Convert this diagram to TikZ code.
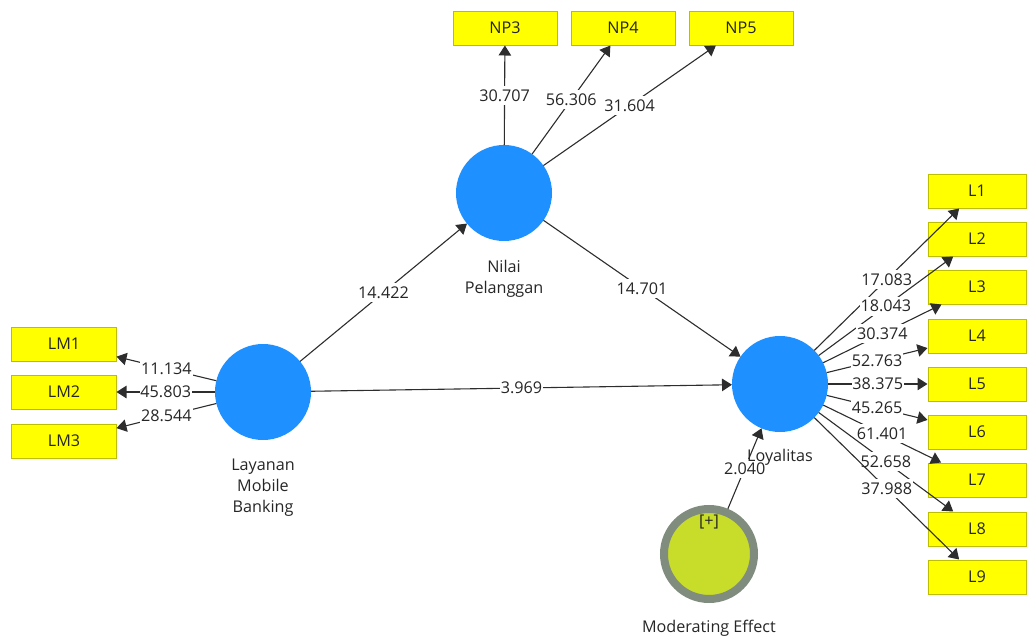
\documentclass[tikz,border=0pt]{standalone}
\usepackage{fontspec}
\setmainfont{Open Sans}
\usetikzlibrary{arrows.meta,positioning}

\definecolor{lvblue}{RGB}{30,144,255}
\definecolor{indyellow}{RGB}{255,255,0}
\definecolor{indborder}{RGB}{190,190,0}
\definecolor{modfill}{RGB}{200,220,42}
\definecolor{modring}{RGB}{128,140,125}
\definecolor{linkgray}{RGB}{45,45,45}

\begin{document}
\begin{tikzpicture}[x=0.2mm, y=-0.2mm,
  latent/.style={circle, fill=lvblue, minimum size=19.2mm, inner sep=0pt, outer sep=0pt},
  moderator/.style={circle, fill=modfill, draw=modring, line width=1.6mm, minimum size=18mm, inner sep=0pt, outer sep=0.8mm},
  indicator/.style={rectangle, fill=indyellow, draw=indborder, line width=0.2mm, minimum width=20.8mm, minimum height=6.8mm, inner sep=0pt, text=black!85, font=\fontsize{9.2}{10}\selectfont},
  caption/.style={align=center, inner sep=0pt, text=black!85, font=\fontsize{9.2}{11.7}\selectfont},
  link/.style={draw=linkgray, line width=0.22mm, -{Triangle[length=2mm,width=2.5mm]}},
  coef/.style={midway, fill=white, inner xsep=0.5pt, inner ysep=2pt, text=black!85, font=\fontsize{9.2}{10}\selectfont}
]

\useasboundingbox (0,0) rectangle (1027,640);

% 1. Latent variables
\node[latent] (NP) at (504,193) {};
\node[latent] (LMB) at (263,392) {};
\node[latent] (LOY) at (780,384) {};
\node[moderator] (MOD) at (709,554) {};

% 2. Captions
\node[caption, below=3.8mm of NP] (NPtext) {Nilai\\Pelanggan};
\node[caption, below=3.8mm of LMB] (LMBtext) {Layanan\\Mobile\\Banking};
\node[caption, below=3.4mm of MOD] (MODtext) {Moderating Effect};
\node[caption] (plus) at (709,522) {[+]};

% 3. Indicators of Nilai Pelanggan
\node[indicator] (NP3) at (505,28) {NP3};
\node[indicator] (NP4) at (623,28) {NP4};
\node[indicator] (NP5) at (741,28) {NP5};

% 4. Indicators of Layanan Mobile Banking
\node[indicator] (LM1) at (64,344) {LM1};
\node[indicator] (LM2) at (64,392) {LM2};
\node[indicator] (LM3) at (64,441) {LM3};

% 5. Indicators of Loyalitas (narrower, cut at the right edge)
\node[indicator, minimum width=19.6mm] (L1) at (977,191) {L1};
\node[indicator, minimum width=19.6mm] (L2) at (977,239) {L2};
\node[indicator, minimum width=19.6mm] (L3) at (977,287) {L3};
\node[indicator, minimum width=19.6mm] (L4) at (977,336) {L4};
\node[indicator, minimum width=19.6mm] (L5) at (977,384) {L5};
\node[indicator, minimum width=19.6mm] (L6) at (977,432) {L6};
\node[indicator, minimum width=19.6mm] (L7) at (977,480) {L7};
\node[indicator, minimum width=19.6mm] (L8) at (977,529) {L8};
\node[indicator, minimum width=19.6mm] (L9) at (977,577) {L9};

% 6. Structural paths
\draw[link] (LMB) -- (NP) node[coef] {14.422};
\draw[link] (LMB) -- (LOY) node[coef] {3.969};
\draw[link] (NP) -- (LOY) node[coef] {14.701};
\draw[link] (MOD) -- (LOY) node[coef] {2.040};

% caption of Loyalitas goes on top of the 2.040 label
\node[caption, below=3.4mm of LOY] (LOYtext) {Loyalitas};

% 7. Outer loadings
\draw[link] (NP) -- (NP3) node[coef] {30.707};
\draw[link] (NP) -- (NP4) node[coef] {56.306};
\draw[link] (NP) -- (NP5) node[coef] {31.604};

\draw[link] (LMB) -- (LM1) node[coef] {11.134};
\draw[link] (LMB) -- (LM2) node[coef] {45.803};
\draw[link] (LMB) -- (LM3) node[coef] {28.544};

\draw[link] (LOY) -- (L1) node[coef] {17.083};
\draw[link] (LOY) -- (L2) node[coef] {18.043};
\draw[link] (LOY) -- (L3) node[coef] {30.374};
\draw[link] (LOY) -- (L4) node[coef] {52.763};
\draw[link] (LOY) -- (L5) node[coef] {38.375};
\draw[link] (LOY) -- (L6) node[coef] {45.265};
\draw[link] (LOY) -- (L7) node[coef] {61.401};
\draw[link] (LOY) -- (L8) node[coef] {52.658};
\draw[link] (LOY) -- (L9) node[coef] {37.988};

\end{tikzpicture}
\end{document}
